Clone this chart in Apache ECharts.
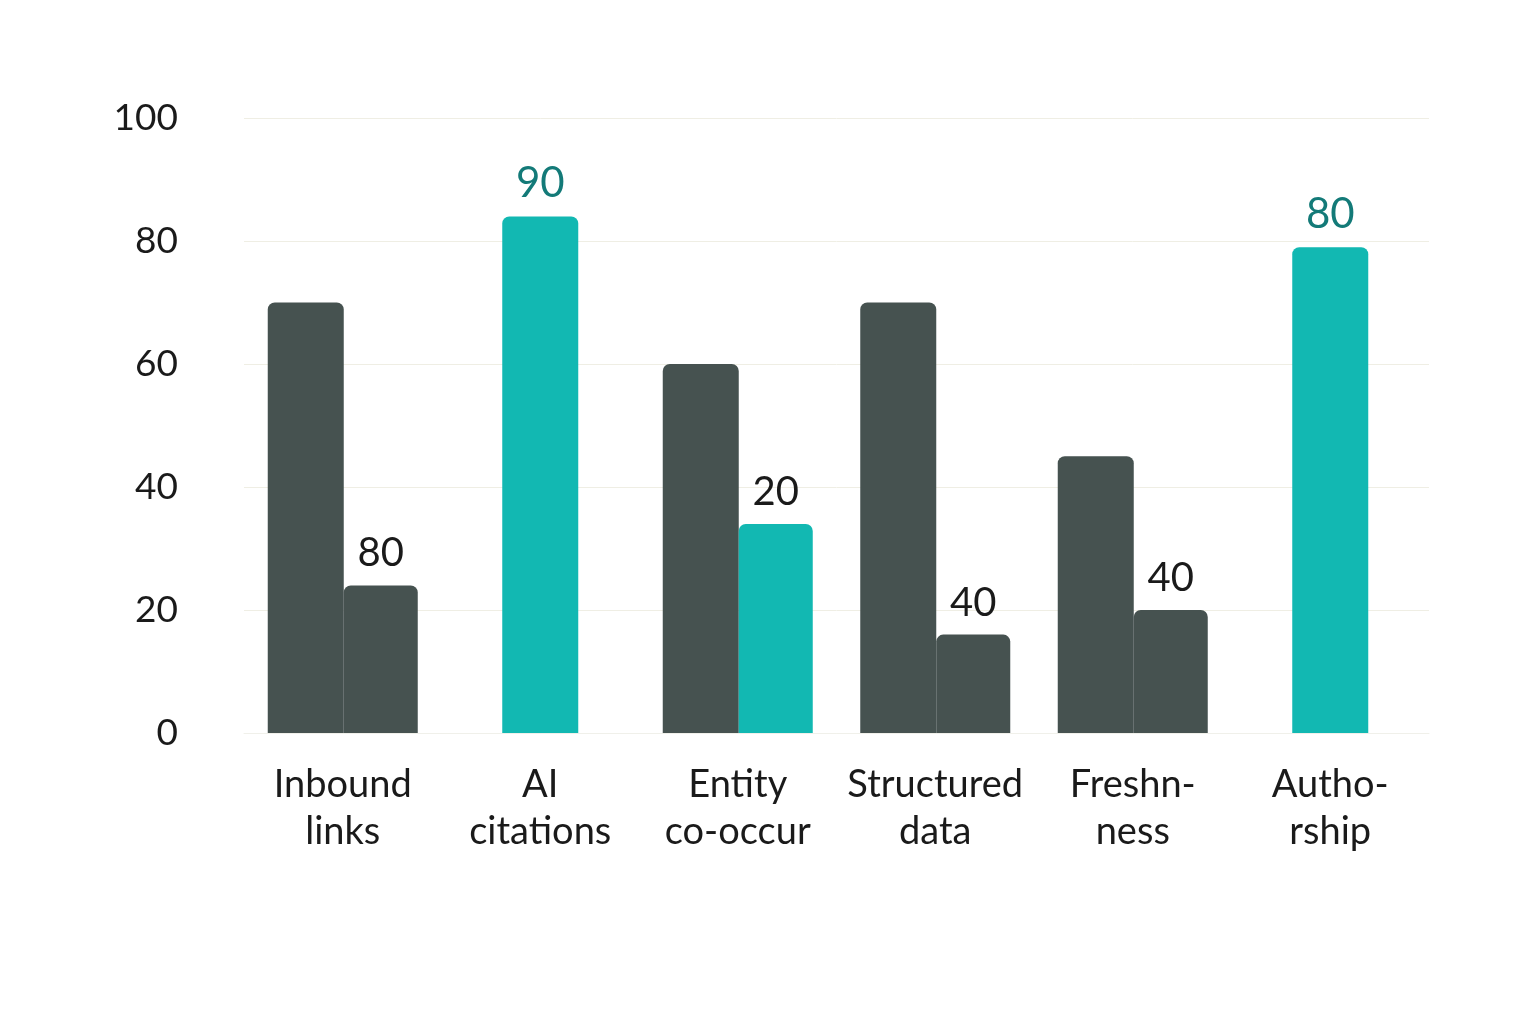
<!DOCTYPE html>
<html><head><meta charset="utf-8">
<script src="https://cdn.jsdelivr.net/npm/echarts@6/dist/echarts.min.js"></script>
<style>html,body{margin:0;background:#fff}#c{width:1536px;height:1024px}</style>
</head><body><div id="c"></div>
<script>
const categories = ['Inbound\nlinks','AI\ncitations','Entity\nco-occur','Structured\ndata','Freshn-\nness','Autho-\nrship'];
const primaryValues = [70, null, 60, 70, 45, null];
const secondaryValues = [24, null, 34, 16, 20, null];
const secondaryLabels = ['80', '', '20', '40', '40', ''];
const secondaryTeal = [false, false, true, false, false, false];
const singleValues = [null, 84, null, null, null, 79];
const singleLabels = ['', '90', '', '', '', '80'];
const yTicks = [0, 20, 40, 60, 80, 100];

const DARK = '#465250', TEAL = '#12b8b2', TEALTXT = '#137a78';
const font = 'Lato, "Noto Sans", sans-serif';
const chart = echarts.init(document.getElementById('c'));
chart.setOption({
  animation: false,
  grid: { left: 244, right: 107, top: 118, bottom: 291 },
  xAxis: [
    { type: 'category', data: categories, axisTick: {show:false},
      axisLine: { lineStyle: { color: '#f0f0ea' } },
      axisLabel: { color: '#1a1a1a', fontSize: 38, fontFamily: font, lineHeight: 47, margin: 28, interval: 0 } },
    { type: 'category', data: categories, show: false }
  ],
  yAxis: { type: 'value', min: 0, max: 100, interval: 20,
    axisLabel: { color: '#1a1a1a', fontSize: 37, fontFamily: font, margin: 66 },
    splitLine: { lineStyle: { color: '#efeee4' } } },
  series: [
    { type: 'bar', xAxisIndex: 0, data: primaryValues, barWidth: 76, barGap: '0%',
      itemStyle: { color: DARK, borderRadius: [7,7,0,0] } },
    { type: 'bar', xAxisIndex: 0, barWidth: 74,
      data: secondaryValues.map((v,i)=>({ value: v, itemStyle: { color: secondaryTeal[i] ? TEAL : DARK } })),
      itemStyle: { borderRadius: [7,7,0,0] },
      label: { show: true, position: 'top', distance: 12, fontSize: 40, fontFamily: font, color: '#1a1a1a',
        formatter: p => secondaryLabels[p.dataIndex] } },
    { type: 'bar', xAxisIndex: 1, data: singleValues, barWidth: 76,
      itemStyle: { color: TEAL, borderRadius: [7,7,0,0] },
      label: { show: true, position: 'top', distance: 12, fontSize: 42, fontFamily: font, color: TEALTXT,
        formatter: p => singleLabels[p.dataIndex] } }
  ]
});
</script></body></html>
